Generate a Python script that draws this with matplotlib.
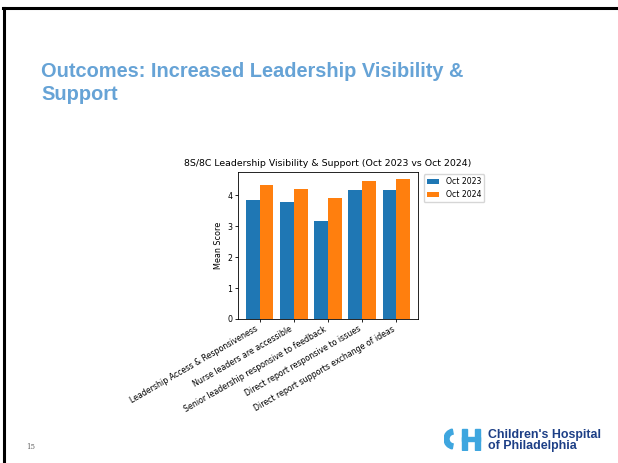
import matplotlib
matplotlib.use("Agg")
import matplotlib.pyplot as plt
import numpy as np
from matplotlib.patches import Rectangle, Wedge
from matplotlib.lines import Line2D

categories = [
    "Leadership Access & Responsiveness",
    "Nurse leaders are accessible",
    "Senior leadership responsive to feedback",
    "Direct report responsive to issues",
    "Direct report supports exchange of ideas",
]
oct_2023 = [3.84, 3.78, 3.16, 4.16, 4.18]
oct_2024 = [4.32, 4.21, 3.92, 4.46, 4.52]
series_labels = ["Oct 2023", "Oct 2024"]

W, H = 618, 463
fig = plt.figure(figsize=(W / 100, H / 100), dpi=100)
fig.patch.set_facecolor("white")

def fx(px):
    return px / W

def fy(py):
    return 1 - py / H

# slide border (top and left)
fig.add_artist(Line2D([fx(4), fx(4)], [fy(8), 0], color="black", lw=2.2))
fig.add_artist(Line2D([fx(3), 1], [fy(8), fy(8)], color="black", lw=2.2))

# slide title
tkw = dict(color="#66a3d6", fontsize=14.4, fontweight="bold",
           family="Liberation Sans", ha="left", va="baseline")
fig.text(fx(41), fy(77), "Outcomes: Increased Leadership Visibility &", **tkw)
fig.text(fx(41), fy(100), "Support", **tkw)

# page number
fig.text(fx(26), fy(449), "15", fontsize=5, color="#666666", family="DejaVu Serif")

# chart
ax = fig.add_axes([fx(238), fy(319), fx(418) - fx(238), (319 - 172) / H])
x = np.arange(len(categories))
w = 0.4
ax.bar(x - w / 2, oct_2023, w, label=series_labels[0], color="#1f77b4")
ax.bar(x + w / 2, oct_2024, w, label=series_labels[1], color="#ff7f0e")
ax.set_xticks(x)
ax.set_xticklabels(categories, rotation=30, ha="right", fontsize=5.65)
ax.tick_params(axis="both", labelsize=5.65, length=2.5, width=0.6, pad=1.5)
ax.set_ylabel("Mean Score", fontsize=5.8, labelpad=3)
ax.set_title("8S/8C Leadership Visibility & Support (Oct 2023 vs Oct 2024)",
             fontsize=6.75, pad=4)
for s in ax.spines.values():
    s.set_linewidth(0.6)
ax.legend(bbox_to_anchor=(1.02, 1), loc="upper left", fontsize=5.6,
          handlelength=1.6, handleheight=0.6, labelspacing=0.5,
          borderaxespad=0.3, frameon=True)

# logo
lc = "#3ea6df"
ax_logo = fig.add_axes([fx(444), fy(451), fx(39), 23 / H])
ax_logo.set_xlim(0, 39)
ax_logo.set_ylim(0, 23)
ax_logo.axis("off")
ax_logo.add_patch(Wedge((10, 12), 10, 100, 260, width=5, color=lc))
ax_logo.add_patch(Rectangle((18, 1), 5, 21, color=lc))
ax_logo.add_patch(Rectangle((31, 1), 5, 21, color=lc))
ax_logo.add_patch(Rectangle((18, 10), 18, 4.5, color=lc))
lkw = dict(color="#1d3f86", fontsize=8.9, fontweight="bold", family="Liberation Sans",
           ha="left", va="baseline")
fig.text(fx(488), fy(438), "Children's Hospital", **lkw)
fig.text(fx(488), fy(449.5), "of Philadelphia", **lkw)

fig.savefig("out.png", dpi=100)
